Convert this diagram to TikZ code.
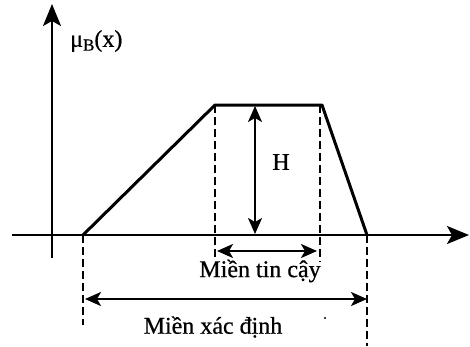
\documentclass[tikz,border=0pt]{standalone}
\usepackage{fontspec}
\setmainfont{Liberation Serif}[FakeBold=0.6]
\usetikzlibrary{arrows.meta}
\begin{document}
\begin{tikzpicture}[x=1pt,y=-1pt,
  axis/.style={line width=2pt,-{Stealth[length=22pt,width=18pt,inset=5pt]}},
  curve/.style={line width=3pt,line join=round},
  guide/.style={line width=1.6pt,dash pattern=on 8pt off 4pt},
  dim/.style={line width=2pt,{Stealth[length=16pt,width=14pt,inset=4pt]}-{Stealth[length=16pt,width=14pt,inset=4pt]}},
  lbl/.style={font=\fontsize{24}{28}\selectfont,inner sep=0pt}]
\useasboundingbox (0,0) rectangle (470,346);
% axes
\coordinate (ybot) at (52,258);
\coordinate (ytop) at (52,4);
\coordinate (xl) at (12,235);
\coordinate (xr) at (469,235);
\draw[axis] (ybot) -- (ytop);
\draw[axis] (xl) -- (xr);
\node[lbl,anchor=west] (mu) at (70,41) {μ\raisebox{-0.35ex}{\fontsize{17}{19}\selectfont B}(x)};
% trapezoid
\coordinate (a) at (83,235);
\coordinate (b) at (215,105);
\coordinate (c) at (322,105);
\coordinate (d) at (367,235);
\draw[curve] (a) -- (b) -- (c) -- (d);
% guides
\coordinate (b1) at (215,260);
\coordinate (c1) at (320,262);
\coordinate (a1) at (83,325);
\coordinate (d1) at (367,346);
\draw[guide] (b) -- (b1);
\draw[guide] (320,105) -- (c1);
\draw[guide] (a) -- (a1);
\draw[guide] (d) -- (d1);
% H
\coordinate (ht) at (255,106);
\coordinate (hb) at (255,234);
\draw[dim] (ht) -- (hb);
\node[lbl] (H) at (281,162) {H};
% tin cay
\coordinate (t1) at (217,251);
\coordinate (t2) at (317,251);
\draw[dim] (t1) -- (t2);
\node[lbl] (tincay) at (260,271) {Miền tin cậy};
% xac dinh
\coordinate (x1) at (85,299);
\coordinate (x2) at (367,299);
\draw[dim] (x1) -- (x2);
\node[lbl] (xacdinh) at (213,327) {Miền xác định};
\fill (325,318) circle (1.2pt);
\end{tikzpicture}
\end{document}
